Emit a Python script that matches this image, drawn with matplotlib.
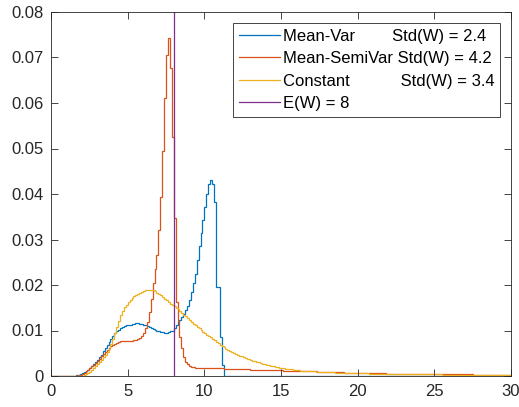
import numpy as np
import matplotlib
matplotlib.use('Agg')
import matplotlib.pyplot as plt
from matplotlib.ticker import FuncFormatter

plt.rcParams['font.family'] = ['Liberation Sans', 'DejaVu Sans']
plt.rcParams['font.size'] = 12

# histogram bins (probability per bin), values in units of 1e-4
bin_edges = np.arange(0, 30.001, 0.125)

mean_var = [
    0, 0, 0, 0, 0, 0, 0, 0, 0, 0, 0, 1, 1, 2, 3, 4,
    6, 8, 11, 14, 17, 22, 27, 31, 36, 41, 47, 54, 61, 68, 75, 82,
    89, 95, 99, 102, 105, 108, 110, 112, 113, 113, 114, 115, 116, 116, 115, 115,
    113, 112, 110, 108, 106, 104, 101, 99, 98, 97, 96, 95, 95, 96, 98, 100,
    106, 112, 118, 124, 130, 137, 145, 153, 166, 185, 205, 225, 255, 285, 314, 343,
    372, 401, 423, 431, 423, 383, 196, 196, 86, 24, 0, 0, 0, 0, 0, 0,
    0, 0, 0, 0, 0, 0, 0, 0, 0, 0, 0, 0, 0, 0, 0, 0,
    0, 0, 0, 0, 0, 0, 0, 0, 0, 0, 0, 0, 0, 0, 0, 0,
    0, 0, 0, 0, 0, 0, 0, 0, 0, 0, 0, 0, 0, 0, 0, 0,
    0, 0, 0, 0, 0, 0, 0, 0, 0, 0, 0, 0, 0, 0, 0, 0,
    0, 0, 0, 0, 0, 0, 0, 0, 0, 0, 0, 0, 0, 0, 0, 0,
    0, 0, 0, 0, 0, 0, 0, 0, 0, 0, 0, 0, 0, 0, 0, 0,
    0, 0, 0, 0, 0, 0, 0, 0, 0, 0, 0, 0, 0, 0, 0, 0,
    0, 0, 0, 0, 0, 0, 0, 0, 0, 0, 0, 0, 0, 0, 0, 0,
    0, 0, 0, 0, 0, 0, 0, 0, 0, 0, 0, 0, 0, 0, 0, 0,
]

mean_semivar = [
    0, 0, 0, 0, 0, 0, 0, 0, 0, 0, 0, 0, 1, 1, 2, 3,
    5, 7, 10, 13, 17, 21, 25, 29, 34, 38, 43, 48, 53, 57, 61, 65,
    68, 71, 73, 75, 76, 77, 78, 78, 78, 78, 78, 79, 80, 82, 84, 88,
    95, 105, 118, 140, 170, 205, 235, 265, 320, 394, 495, 612, 705, 742, 676, 526,
    347, 163, 120, 86, 61, 42, 31, 26, 22, 20, 19, 18, 18, 17, 17, 17,
    17, 17, 17, 17, 17, 17, 17, 17, 17, 17, 16, 16, 16, 16, 16, 16,
    16, 15, 15, 15, 15, 15, 15, 15, 14, 14, 14, 14, 14, 14, 14, 14,
    14, 13, 13, 13, 13, 13, 13, 13, 13, 12, 12, 12, 12, 12, 12, 11,
    11, 11, 11, 11, 11, 10, 10, 10, 10, 10, 10, 9, 9, 9, 9, 9,
    9, 9, 8, 8, 8, 8, 8, 8, 8, 7, 7, 7, 7, 7, 7, 7,
    7, 6, 6, 6, 6, 6, 6, 6, 6, 6, 6, 6, 6, 6, 6, 5,
    5, 5, 5, 5, 5, 5, 5, 5, 5, 5, 5, 5, 5, 5, 5, 5,
    5, 5, 5, 5, 5, 4, 4, 4, 4, 4, 4, 4, 4, 4, 4, 4,
    4, 4, 4, 4, 4, 4, 4, 4, 4, 4, 4, 4, 3, 3, 3, 3,
    3, 3, 3, 3, 3, 3, 3, 3, 3, 3, 3, 3, 3, 3, 3, 3,
]

constant = [
    0, 0, 0, 0, 0, 0, 0, 0, 0, 0, 0, 0, 0, 0, 0, 1,
    1, 2, 4, 6, 9, 13, 17, 22, 27, 31, 36, 41, 46, 53, 60, 70,
    82, 95, 108, 121, 133, 143, 151, 157, 162, 167, 171, 175, 178, 181, 183, 185,
    187, 188, 189, 190, 189, 188, 186, 183, 180, 177, 174, 170, 166, 162, 159, 156,
    153, 150, 147, 143, 139, 135, 131, 127, 123, 119, 115, 112, 108, 105, 101, 97,
    94, 91, 88, 85, 82, 79, 75, 72, 69, 66, 63, 60, 57, 55, 53, 51,
    49, 47, 45, 43, 41, 40, 38, 37, 36, 34, 33, 31, 30, 29, 27, 26,
    25, 24, 23, 22, 21, 20, 19, 18, 17, 17, 16, 16, 15, 15, 14, 14,
    13, 13, 12, 12, 11, 11, 11, 10, 10, 10, 9, 9, 9, 9, 8, 8,
    8, 8, 8, 8, 7, 7, 7, 7, 7, 7, 7, 7, 6, 6, 6, 6,
    6, 6, 6, 6, 6, 6, 5, 5, 5, 5, 5, 5, 5, 5, 5, 5,
    5, 5, 5, 5, 5, 5, 4, 4, 4, 4, 4, 4, 4, 4, 4, 4,
    4, 4, 4, 4, 4, 4, 4, 4, 4, 4, 4, 4, 3, 3, 3, 3,
    3, 3, 3, 3, 3, 3, 3, 3, 3, 3, 3, 3, 3, 3, 3, 3,
    3, 3, 3, 3, 3, 3, 3, 3, 3, 3, 3, 3, 3, 3, 3, 3,
]

expected_w = 8
labels = [
    'Mean-Var        Std(W) = 2.4',
    'Mean-SemiVar Std(W) = 4.2',
    'Constant           Std(W) = 3.4',
    'E(W) = 8',
]
colors = ['#0072BD', '#D95319', '#EDB120', '#7E2F8E']

fig = plt.figure(figsize=(5.19, 4.07), dpi=100)
ax = fig.add_axes([51 / 519, 31 / 407, 460 / 519, 364 / 407])

for vals, lab, col in zip([mean_var, mean_semivar, constant], labels[:3], colors[:3]):
    ax.stairs(np.array(vals) / 1e4, bin_edges, color=col, lw=0.9, label=lab)
ax.axvline(expected_w, color=colors[3], lw=0.9, label=labels[3])

ax.set_xlim(0, 30)
ax.set_ylim(0, 0.08)
ax.set_xticks(np.arange(0, 31, 5))
ax.set_yticks(np.arange(0, 0.081, 0.01))
ax.yaxis.set_major_formatter(FuncFormatter(lambda v, p: '%g' % round(v, 4)))
ax.tick_params(direction='in', top=True, right=True, length=5, width=0.6,
               color='#262626', labelcolor='#262626')
ax.tick_params(axis='x', pad=6)
ax.tick_params(axis='y', pad=5)
for s in ax.spines.values():
    s.set_color('#262626')
    s.set_linewidth(0.6)

leg = ax.legend(loc='upper right', fancybox=False, framealpha=1, edgecolor='#262626',
                borderaxespad=0.65, handlelength=2.5, handletextpad=0.15,
                labelspacing=0.45, borderpad=0.35)
leg.get_frame().set_linewidth(0.6)

fig.savefig('out.png', dpi=100)
